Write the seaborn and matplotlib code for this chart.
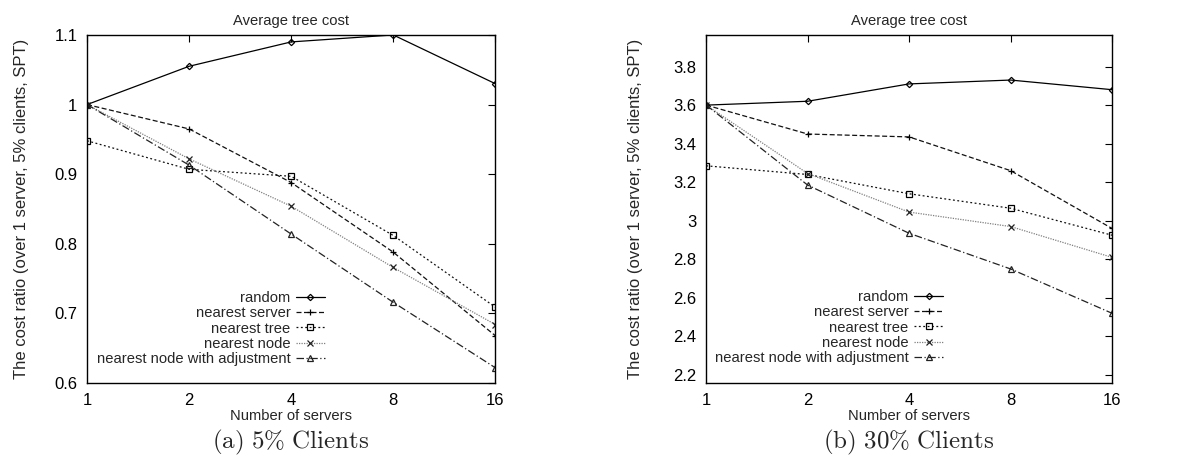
import numpy as np
import pandas as pd
import seaborn as sns
import matplotlib
matplotlib.use("Agg")
import matplotlib.pyplot as plt
from matplotlib.ticker import FixedLocator, FuncFormatter, NullLocator

servers = [1, 2, 4, 8, 16]
methods = ["random", "nearest server", "nearest tree", "nearest node",
           "nearest node with adjustment"]

# 5% clients
random_5 = [1.0, 1.055, 1.09, 1.1, 1.03]
server_5 = [1.0, 0.965, 0.888, 0.788, 0.668]
tree_5 = [0.948, 0.907, 0.897, 0.812, 0.709]
node_5 = [1.0, 0.922, 0.854, 0.766, 0.684]
adjust_5 = [1.0, 0.913, 0.814, 0.716, 0.622]

# 30% clients
random_30 = [3.6, 3.62, 3.71, 3.73, 3.68]
server_30 = [3.6, 3.45, 3.435, 3.26, 2.96]
tree_30 = [3.285, 3.24, 3.14, 3.065, 2.925]
node_30 = [3.6, 3.245, 3.045, 2.97, 2.81]
adjust_30 = [3.6, 3.185, 2.935, 2.75, 2.52]

captions = ["(a)\\ 5\\%\\ Clients", "(b)\\ 30\\%\\ Clients"]

sns.set_theme(style="white")
plt.rcParams["font.family"] = ["Liberation Sans", "DejaVu Sans"]
plt.rcParams["mathtext.fontset"] = "cm"

colors = ["black", "#111111", "#111111", "#808080", "#222222"]
mark_colors = ["black", "black", "black", "#222222", "#222222"]
marks = ["D", "+", "s", "x", "^"]
mark_sizes = [3.2, 5, 5, 5, 4.5]
dash_list = [(None, None), (4, 2), (1.5, 2), (1, 1), (6, 2, 1, 2)]

fig = plt.figure(figsize=(11.99, 4.66), dpi=100)
ax1 = fig.add_axes([0.0726, 0.178, 0.3405, 0.747])
ax2 = fig.add_axes([0.589, 0.178, 0.3385, 0.747])

configs = [(ax1, [random_5, server_5, tree_5, node_5, adjust_5], (0.6, 1.1),
            [0.6, 0.7, 0.8, 0.9, 1.0, 1.1], -0.143, (0.583, 0.049)),
           (ax2, [random_30, server_30, tree_30, node_30, adjust_30], (2.158, 3.964),
            [2.2, 2.4, 2.6, 2.8, 3.0, 3.2, 3.4, 3.6, 3.8], -0.156, (0.584, 0.052))]

for i, (ax, series, ylim, yticks, ylab_x, leg_xy) in enumerate(configs):
    for name, vals, c, mc, m, ms, d in zip(methods, series, colors, mark_colors,
                                            marks, mark_sizes, dash_list):
        sns.lineplot(x=servers, y=vals, ax=ax, color=c, marker=m, label=name,
                     linewidth=0.9, markersize=ms, markerfacecolor="none",
                     markeredgecolor=mc, markeredgewidth=0.9)
        line = ax.lines[-1]
        if d[0] is not None:
            line.set_dashes(d)
    ax.set_xscale("log", base=2)
    ax.set_xlim(1, 16)
    ax.set_ylim(*ylim)
    ax.xaxis.set_major_locator(FixedLocator(servers))
    ax.xaxis.set_minor_locator(NullLocator())
    ax.xaxis.set_major_formatter(FuncFormatter(lambda v, p: "%g" % v))
    ax.yaxis.set_major_locator(FixedLocator(yticks))
    ax.yaxis.set_major_formatter(FuncFormatter(lambda v, p: "%g" % round(v, 2)))
    ax.tick_params(direction="in", length=5, width=0.8, top=True, right=True,
                   labelsize=12, colors="black", pad=7)
    for sp in ax.spines.values():
        sp.set_color("black")
        sp.set_linewidth(1.0)
    ax.set_title("Average tree cost", fontsize=10.6, pad=7)
    ax.set_xlabel("Number of servers", fontsize=10.6, labelpad=1)
    ax.set_ylabel("The cost ratio (over 1 server, 5% clients, SPT)", fontsize=12)
    ax.yaxis.set_label_coords(ylab_x, 0.5)
    leg = ax.legend(loc="lower right", bbox_to_anchor=leg_xy, frameon=False,
                    markerfirst=False, fontsize=10.6, handlelength=2.0,
                    labelspacing=0.08, handletextpad=0.35, borderpad=0,
                    borderaxespad=0)
    for t in leg.get_texts():
        t.set_ha("right")
    leg._legend_box.align = "right"
    ax.text(0.5, -0.172, "$\\mathrm{" + captions[i] + "}$", transform=ax.transAxes,
            ha="center", va="center", fontsize=18)

fig.savefig("out.png", dpi=100)
